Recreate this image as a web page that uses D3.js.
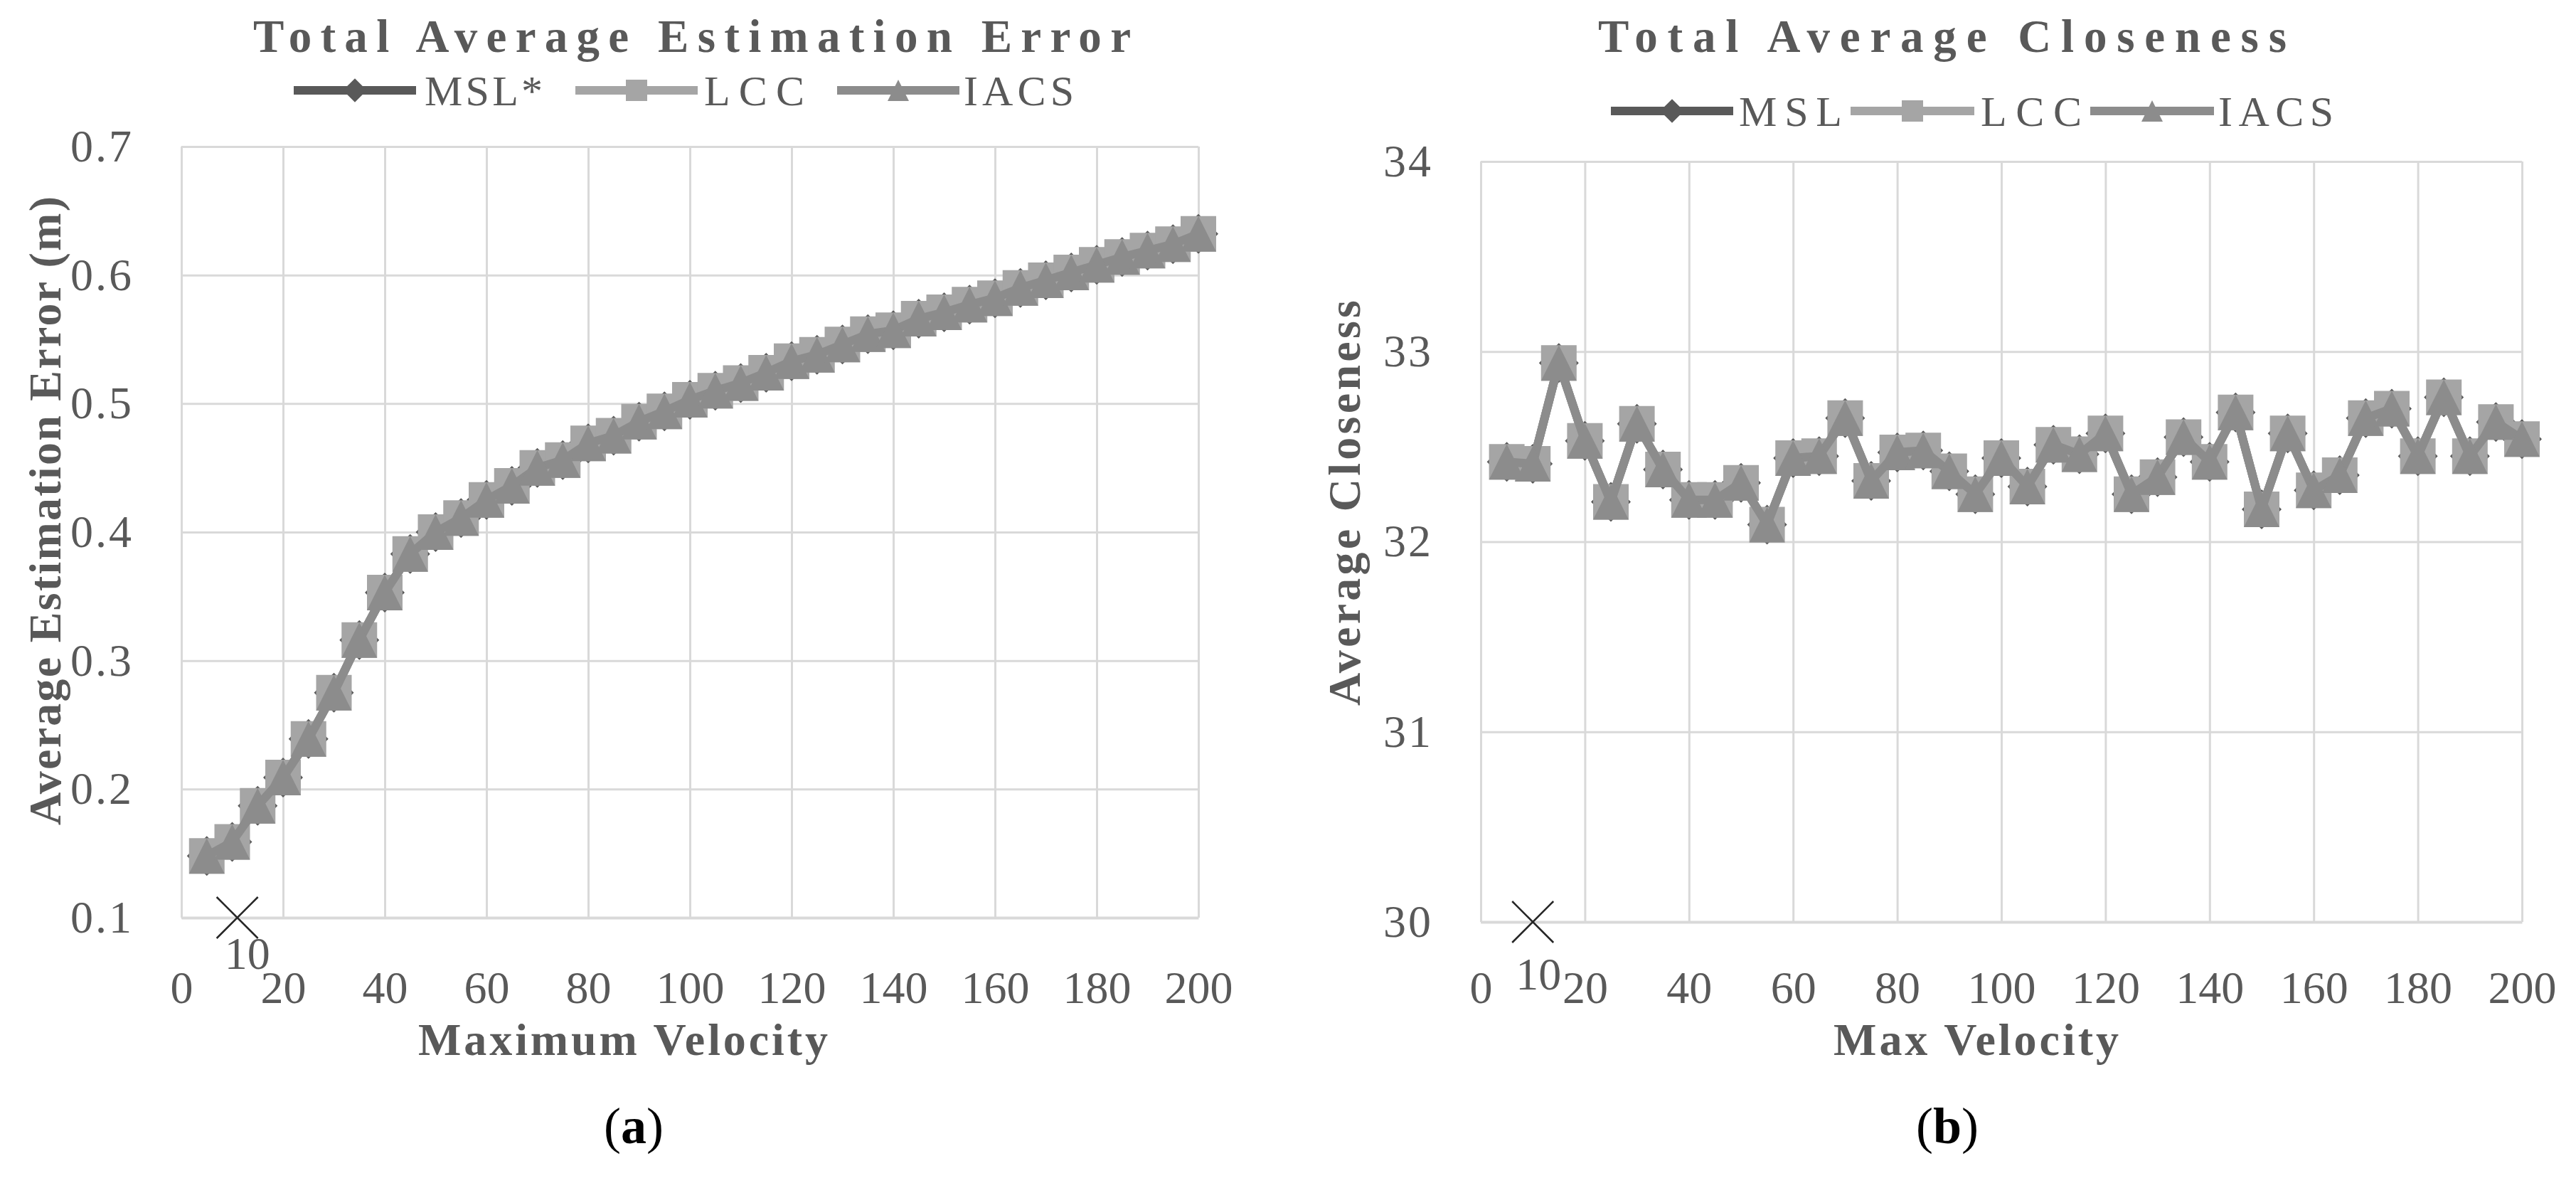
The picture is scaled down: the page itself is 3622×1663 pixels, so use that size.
<!DOCTYPE html>
<html><head><meta charset="utf-8">
<script src="https://cdn.jsdelivr.net/npm/d3@7"></script>
<style>
html,body{margin:0;padding:0;background:#fff;}
svg{display:block;background:#fff;}
text{font-family:"Liberation Serif","Times New Roman",serif;}
</style></head><body>
<svg id="fig" width="3622" height="1663"></svg>
<script>
// ---------------- DATA ----------------
const velocity = [5,10,15,20,25,30,35,40,45,50,55,60,65,70,75,80,85,90,95,100,
                  105,110,115,120,125,130,135,140,145,150,155,160,165,170,175,180,185,190,195,200];

// (a) Total Average Estimation Error
const errMSL  = [0.148,0.159,0.187,0.209,0.239,0.275,0.316,0.353,0.383,0.400,0.411,0.425,0.436,0.450,0.456,0.469,0.475,0.486,0.494,0.503,
                 0.510,0.516,0.524,0.533,0.538,0.546,0.554,0.557,0.566,0.571,0.577,0.582,0.590,0.596,0.602,0.608,0.614,0.619,0.624,0.632];
const errLCC  = [0.148,0.159,0.187,0.209,0.239,0.275,0.316,0.353,0.383,0.400,0.411,0.425,0.436,0.450,0.456,0.469,0.475,0.486,0.494,0.503,
                 0.510,0.516,0.524,0.533,0.538,0.546,0.554,0.557,0.566,0.571,0.577,0.582,0.590,0.596,0.602,0.608,0.614,0.619,0.624,0.632];
const errIACS = [0.148,0.159,0.187,0.209,0.239,0.275,0.316,0.353,0.383,0.400,0.411,0.425,0.436,0.450,0.456,0.469,0.475,0.486,0.494,0.503,
                 0.510,0.516,0.524,0.533,0.538,0.546,0.554,0.557,0.566,0.571,0.577,0.582,0.590,0.596,0.602,0.608,0.614,0.619,0.624,0.632];

// (b) Total Average Closeness
const closeMSL  = [32.42,32.41,32.94,32.53,32.21,32.62,32.38,32.22,32.22,32.31,32.09,32.44,32.45,32.65,32.32,32.47,32.48,32.37,32.25,32.44,
                   32.29,32.51,32.46,32.57,32.25,32.34,32.55,32.42,32.68,32.17,32.57,32.27,32.35,32.65,32.70,32.45,32.76,32.45,32.63,32.54];
const closeLCC  = [32.42,32.41,32.94,32.53,32.21,32.62,32.38,32.22,32.22,32.31,32.09,32.44,32.45,32.65,32.32,32.47,32.48,32.37,32.25,32.44,
                   32.29,32.51,32.46,32.57,32.25,32.34,32.55,32.42,32.68,32.17,32.57,32.27,32.35,32.65,32.70,32.45,32.76,32.45,32.63,32.54];
const closeIACS = [32.42,32.41,32.94,32.53,32.21,32.62,32.38,32.22,32.22,32.31,32.09,32.44,32.45,32.65,32.32,32.47,32.48,32.37,32.25,32.44,
                   32.29,32.51,32.46,32.57,32.25,32.34,32.55,32.42,32.68,32.17,32.57,32.27,32.35,32.65,32.70,32.45,32.76,32.45,32.63,32.54];

const xTickValues = [0,20,40,60,80,100,120,140,160,180,200];
const yTicksError = [0.1,0.2,0.3,0.4,0.5,0.6,0.7];
const yTicksClose = [30,31,32,33,34];
const seriesNamesA = ["MSL*","LCC","IACS"];
const seriesNamesB = ["MSL","LCC","IACS"];

// stray point ("X" marker with label 10) in each panel
const strayXA = [11], strayYA = [0.1];
const strayXB = [10], strayYB = [30];
const strayLabel = ["10"];

// ---------------- STYLE / LAYOUT ----------------
const seriesColors = ["#595959","#a5a5a5","#8c8c8c"];
const seriesShapes = ["diamond","square","triangle"];
const textColor = "#595959";
const gridColor = "#d9d9d9";

const panels = [
  { left:255, right:1685, top:206, bottom:1290, yDomain:[0.1,0.7], yTicks:yTicksError, yFmt:d3.format(".1f"),
    series:[errMSL,errLCC,errIACS], names:seriesNamesA,
    stray:{xs:strayXA, ys:strayYA, dx:14, dy:72}, xPad:75,
    title:{text:"Total Average Estimation Error", x:356, w:1234},
    legend:{y:127, items:[{x1:413,x2:585,tx:597,tw:166},{x1:809,x2:981,tx:990,tw:141},{x1:1177,x2:1349,tx:1355,tw:155}]},
    xTitle:{text:"Maximum Velocity", x:588, w:576},
    yTitle:{text:"Average Estimation Error (m)", bx:85, y0:1160, w:884},
    tag:{letter:"a", cx:891} },
  { left:2082, right:3546, top:227, bottom:1296, yDomain:[30,34], yTicks:yTicksClose, yFmt:d3.format("d"),
    series:[closeMSL,closeLCC,closeIACS], names:seriesNamesB,
    stray:{xs:strayXB, ys:strayYB, dx:8, dy:95}, xPad:69,
    title:{text:"Total Average Closeness", x:2247, w:968},
    legend:{y:156, items:[{x1:2265,x2:2437,tx:2445,tw:145},{x1:2602,x2:2776,tx:2785,tw:142},{x1:2939,x2:3113,tx:3119,tw:162}]},
    xTitle:{text:"Max Velocity", x:2578, w:401},
    yTitle:{text:"Average Closeness", bx:1912, y0:992, w:570},
    tag:{letter:"b", cx:2738} }
];

function markerPath(shape, cx, cy, s){
  const h = s/2;
  if(shape==="square") return `M${cx-h},${cy-h}H${cx+h}V${cy+h}H${cx-h}Z`;
  if(shape==="triangle") return `M${cx},${cy-h}L${cx+h},${cy+h}L${cx-h},${cy+h}Z`;
  const r = h*1.12; // diamond
  return `M${cx},${cy-r}L${cx+r},${cy}L${cx},${cy+r}L${cx-r},${cy}Z`;
}

const svg = d3.select("#fig");
svg.append("rect").attr("width",3622).attr("height",1663).attr("fill","#fff");

panels.forEach(p => {
  const g = svg.append("g");
  const x = d3.scaleLinear().domain([0,200]).range([p.left,p.right]);
  const y = d3.scaleLinear().domain(p.yDomain).range([p.bottom,p.top]);
  const W = p.right - p.left, H = p.bottom - p.top;

  // horizontal gridlines + y tick labels
  const yAxis = g.append("g").attr("transform",`translate(${p.left},0)`)
    .call(d3.axisLeft(y).tickValues(p.yTicks).tickFormat(p.yFmt).tickSize(-W).tickPadding(67));
  yAxis.select(".domain").remove();
  yAxis.selectAll(".tick line").attr("stroke",gridColor).attr("stroke-width",3);
  yAxis.selectAll(".tick text").attr("fill",textColor).style("font-size","64px")
    .style("font-family",'"Liberation Serif",serif').attr("letter-spacing","3px");

  // vertical gridlines + x tick labels
  const xAxis = g.append("g").attr("transform",`translate(0,${p.bottom})`)
    .call(d3.axisBottom(x).tickValues(xTickValues).tickFormat(d3.format("d")).tickSize(-H).tickSizeOuter(0).tickPadding(p.xPad));
  xAxis.select(".domain").attr("stroke",gridColor).attr("stroke-width",4);
  xAxis.selectAll(".tick line").attr("stroke",gridColor).attr("stroke-width",3);
  xAxis.selectAll(".tick text").attr("fill",textColor).style("font-size","64px")
    .style("font-family",'"Liberation Serif",serif');

  // series: lines and markers
  p.series.forEach((vals, si) => {
    const pts = velocity.map((v,i)=>[v, vals[i]]);
    g.append("path").datum(pts)
      .attr("d", d3.line().x(d=>x(d[0])).y(d=>y(d[1])))
      .attr("fill","none").attr("stroke",seriesColors[si]).attr("stroke-width",12)
      .attr("stroke-linejoin","round").attr("stroke-linecap","round");
    g.append("g").selectAll("path").data(pts).join("path")
      .attr("d", d=>markerPath(seriesShapes[si], x(d[0]), y(d[1]), 50))
      .attr("fill",seriesColors[si]);
  });

  // stray "X" point with label
  p.stray.xs.forEach((sx,i) => {
    const cx = x(sx), cy = y(p.stray.ys[i]), r = 29;
    g.append("path").attr("d",`M${cx-r},${cy-r}L${cx+r},${cy+r}M${cx+r},${cy-r}L${cx-r},${cy+r}`)
      .attr("stroke","#262626").attr("stroke-width",2.5).attr("fill","none");
    g.append("text").attr("x",cx+p.stray.dx).attr("y",cy+p.stray.dy).attr("text-anchor","middle")
      .attr("fill",textColor).style("font-size","64px").text(strayLabel[i]);
  });

  // title
  g.append("text").attr("x",p.title.x).attr("y",73)
    .attr("textLength",p.title.w).attr("lengthAdjust","spacing")
    .attr("fill",textColor).style("font-size","65px").style("font-weight","bold").text(p.title.text);

  // legend
  p.legend.items.forEach((it,i) => {
    const ly = p.legend.y;
    g.append("line").attr("x1",it.x1).attr("x2",it.x2).attr("y1",ly).attr("y2",ly)
      .attr("stroke",seriesColors[i]).attr("stroke-width",12);
    g.append("path").attr("d",markerPath(seriesShapes[i],(it.x1+it.x2)/2,ly,30)).attr("fill",seriesColors[i]);
    g.append("text").attr("x",it.tx).attr("y",ly+21)
      .attr("textLength",it.tw).attr("lengthAdjust","spacing")
      .attr("fill",textColor).style("font-size","60px").text(p.names[i]);
  });

  // axis titles
  g.append("text").attr("x",p.xTitle.x).attr("y",1483)
    .attr("textLength",p.xTitle.w).attr("lengthAdjust","spacing")
    .attr("fill",textColor).style("font-size","64px").style("font-weight","bold").text(p.xTitle.text);
  g.append("text").attr("transform",`translate(${p.yTitle.bx},${p.yTitle.y0}) rotate(-90)`)
    .attr("textLength",p.yTitle.w).attr("lengthAdjust","spacing")
    .attr("fill",textColor).style("font-size","64px").style("font-weight","bold").text(p.yTitle.text);

  // panel tag
  const t = g.append("text").attr("x",p.tag.cx).attr("y",1607).attr("text-anchor","middle")
    .attr("fill","#000").style("font-size","72px");
  t.append("tspan").text("(");
  t.append("tspan").style("font-weight","bold").text(p.tag.letter);
  t.append("tspan").text(")");
});
</script>
</body></html>
